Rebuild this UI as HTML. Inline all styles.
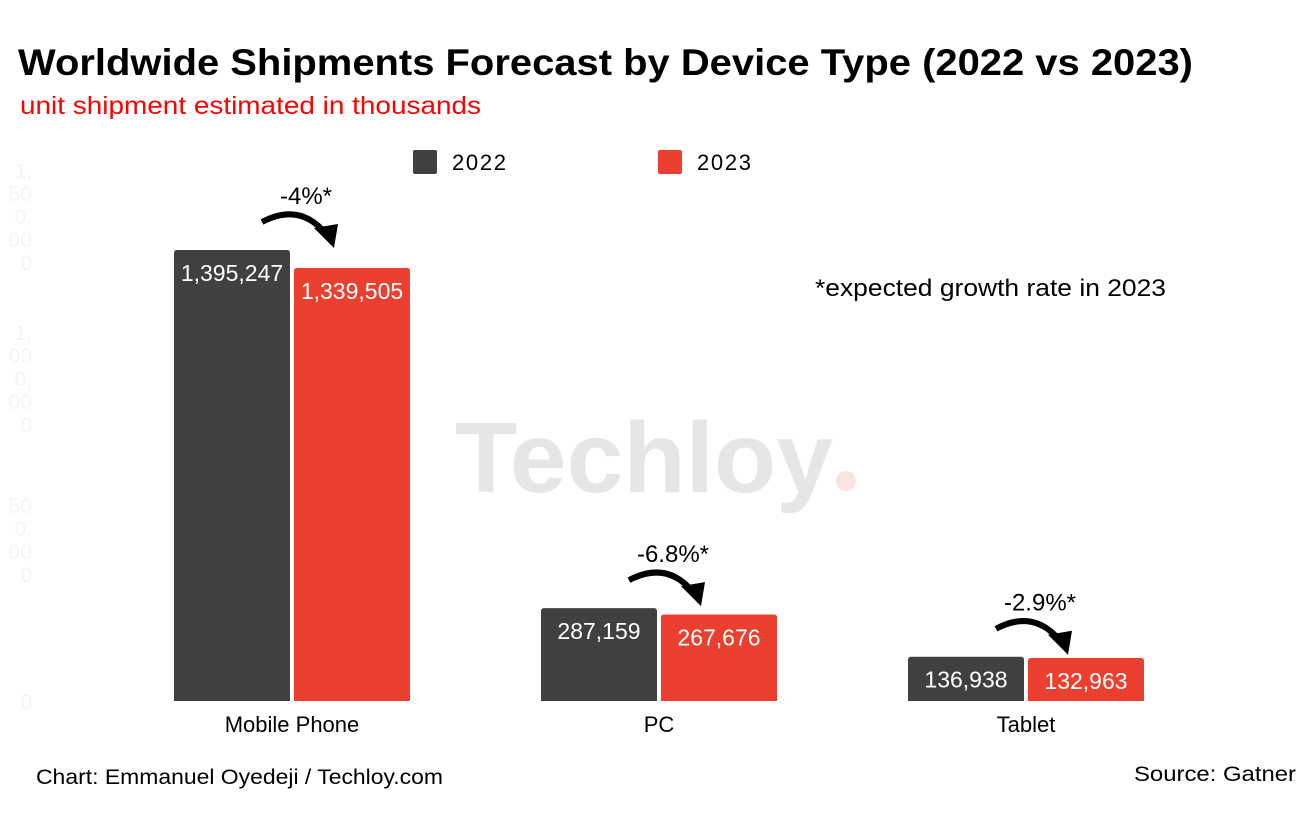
<!DOCTYPE html>
<html><head><meta charset="utf-8"><style>
body{margin:0;background:#fff;font-family:"Liberation Sans",Arial,sans-serif}
svg text{font-family:"Liberation Sans",Arial,sans-serif}
</style></head><body>
<svg id="c" width="1314" height="812" xmlns="http://www.w3.org/2000/svg">
<text x="18" y="75" font-size="37" font-weight="bold" fill="#000" textLength="1175" lengthAdjust="spacingAndGlyphs">Worldwide Shipments Forecast by Device Type (2022 vs 2023)</text>
<text x="20" y="114" font-size="25" fill="#ff0000" textLength="461" lengthAdjust="spacingAndGlyphs">unit shipment estimated in thousands</text>
<g>
<rect x="413" y="150" width="24" height="24" rx="2" fill="#404040"/>
<text x="452" y="170" font-size="22" fill="#000" textLength="54">2022</text>
<rect x="658" y="150" width="24" height="24" rx="2" fill="#eb3f2f"/>
<text x="697" y="170" font-size="22" fill="#000" textLength="54">2023</text>
</g>
<text x="455" y="492" font-size="100" font-weight="bold" fill="#e6e6e6" textLength="378" lengthAdjust="spacingAndGlyphs">Techloy</text>
<circle cx="846" cy="481" r="10" fill="#fbe3e1"/>
<text x="815" y="296" font-size="24" fill="#000" textLength="351" lengthAdjust="spacingAndGlyphs">*expected growth rate in 2023</text>
<text x="36" y="784" font-size="21" fill="#000" textLength="407" lengthAdjust="spacingAndGlyphs">Chart: Emmanuel Oyedeji / Techloy.com</text>
<text x="1134" y="781" font-size="21" fill="#000" textLength="162" lengthAdjust="spacingAndGlyphs">Source: Gatner</text>
<g id="plot"></g>
</svg>
<script>
const categories = ["Mobile Phone","PC","Tablet"];
const values2022 = [1395247,287159,136938];
const values2023 = [1339505,267676,132963];
const growthLabels = ["-4%*","-6.8%*","-2.9%*"];
const tickValues = [0,500000,1000000,1500000];
const tickLines = [["0"],["50","0,","00","0"],["1,","00","0,","00","0"],["1,","50","0,","00","0"]];

const NS="http://www.w3.org/2000/svg";
const g=document.getElementById('plot');
const base=701, scale=451/1395247;
const y=v=>base-v*scale;
const xCenter=i=>292+i*367;
const barW=116, gap=4;
function el(t,a){const e=document.createElementNS(NS,t);for(const k in a)e.setAttribute(k,a[k]);g.appendChild(e);return e;}
function barPath(x,top,w,h,r){return `M${x},${top+h}V${top+r}Q${x},${top} ${x+r},${top}H${x+w-r}Q${x+w},${top} ${x+w},${top+r}V${top+h}Z`;}

tickValues.forEach((v,i)=>{
  const lines=tickLines[i];
  const lh=23;
  const y0=y(v)-(lines.length-1)*lh/2+8;
  const t=el('text',{x:32,y:y0,'font-size':21,fill:'#f5f5f5','text-anchor':'end'});
  
  
  lines.forEach((s,j)=>{const sp=document.createElementNS(NS,'tspan');sp.setAttribute('x',32);sp.setAttribute('y',y0+j*lh);sp.textContent=s;t.appendChild(sp);});
});

categories.forEach((c,i)=>{
  const cx=xCenter(i);
  [[values2022[i],'#404040',cx-gap/2-barW,'2022'],[values2023[i],'#eb3f2f',cx+gap/2,'2023']].forEach(([v,col,x,yr])=>{
    const top=y(v);
    const b=el('path',{d:barPath(x,top,barW,base-top,3),fill:col});
    
    
    const t=el('text',{x:x+barW/2,y:top+31,'font-size':23,fill:'#fff','text-anchor':'middle'});
    
    
    t.textContent=v.toLocaleString('en-US');
  });
  const xl=el('text',{x:cx,y:732,'font-size':22,fill:'#000','text-anchor':'middle'});
  
  
  xl.textContent=c;
  const ay=y(values2022[i]);
  const ax=cx-30;
  const ar=el('path',{d:`M${ax},${ay-28} Q${ax+38},${ay-48} ${ax+64},${ay-16}`,fill:'none',stroke:'#000','stroke-width':6});
  
  
  const hd=el('path',{d:`M${ax+52},${ay-22} L${ax+76},${ay-26} L${ax+72},${ay-2} Z`,fill:'#000'});
  
  
  const gl=el('text',{x:cx+14,y:ay-46,'font-size':24,fill:'#000','text-anchor':'middle'});
  
  
  gl.textContent=growthLabels[i];
});
</script>
</body></html>
